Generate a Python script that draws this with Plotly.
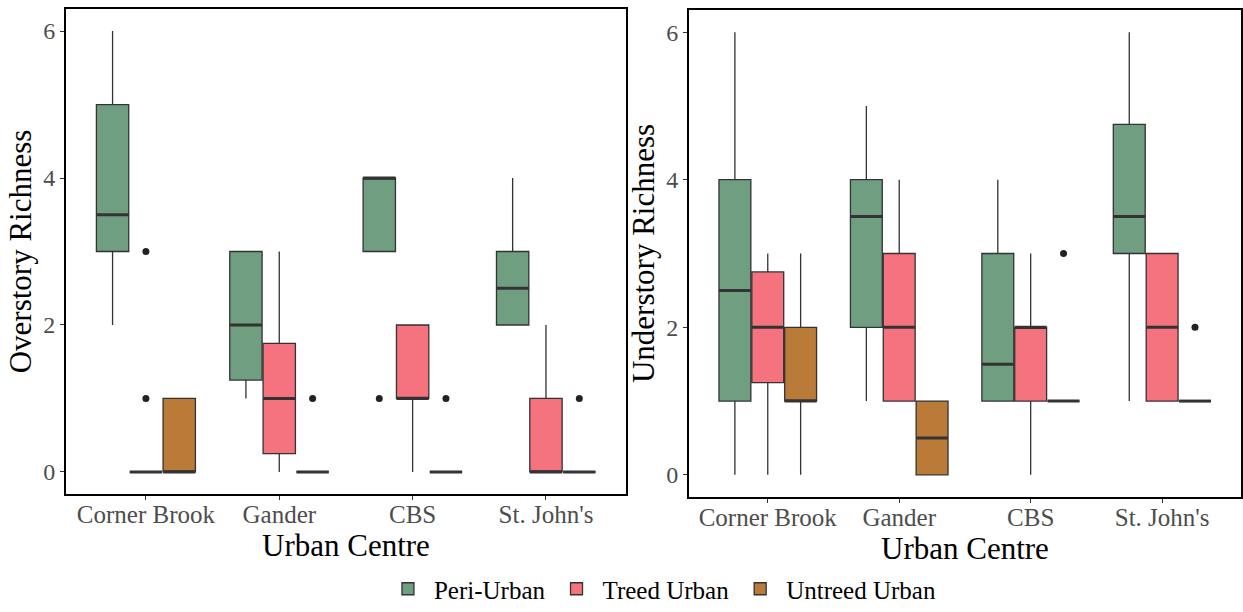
import plotly.graph_objects as go

categories = ["Corner Brook", "Gander", "CBS", "St. John's"]
groups = ["Peri-Urban", "Treed Urban", "Untreed Urban"]
colors = {"Peri-Urban": "#6F9E80", "Treed Urban": "#F4737F", "Untreed Urban": "#BA7B39"}

# Overstory Richness (left panel): per group, per category
over_lower = {"Peri-Urban": [2, 1, 3, 2], "Treed Urban": [0, 0, 0, 0], "Untreed Urban": [0, 0, 0, 0]}
over_q1 = {"Peri-Urban": [3, 1.25, 3, 2], "Treed Urban": [0, 0.25, 1, 0], "Untreed Urban": [0, 0, 0, 0]}
over_med = {"Peri-Urban": [3.5, 2, 4, 2.5], "Treed Urban": [0, 1, 1, 0], "Untreed Urban": [0, 0, 0, 0]}
over_q3 = {"Peri-Urban": [5, 3, 4, 3], "Treed Urban": [0, 1.75, 2, 1], "Untreed Urban": [1, 0, 0, 0]}
over_upper = {"Peri-Urban": [6, 3, 4, 4], "Treed Urban": [0, 3, 2, 2], "Untreed Urban": [1, 0, 0, 0]}
# outliers: (category index, value)
over_out = {"Peri-Urban": [(2, 1)], "Treed Urban": [(0, 1), (0, 3)],
            "Untreed Urban": [(1, 1), (2, 1), (3, 1)]}

# Understory Richness (right panel)
under_lower = {"Peri-Urban": [0, 1, 1, 1], "Treed Urban": [0, 1, 0, 1], "Untreed Urban": [0, 0, 1, 1]}
under_q1 = {"Peri-Urban": [1, 2, 1, 3], "Treed Urban": [1.25, 1, 1, 1], "Untreed Urban": [1, 0, 1, 1]}
under_med = {"Peri-Urban": [2.5, 3.5, 1.5, 3.5], "Treed Urban": [2, 2, 2, 2], "Untreed Urban": [1, 0.5, 1, 1]}
under_q3 = {"Peri-Urban": [4, 4, 3, 4.75], "Treed Urban": [2.75, 3, 2, 3], "Untreed Urban": [2, 1, 1, 1]}
under_upper = {"Peri-Urban": [6, 5, 4, 6], "Treed Urban": [3, 4, 3, 3], "Untreed Urban": [3, 1, 1, 1]}
under_out = {"Peri-Urban": [], "Treed Urban": [], "Untreed Urban": [(2, 3), (3, 2)]}

y_ticks = [0, 2, 4, 6]

BOX_W = 0.25
LINE_C = "#333333"
FONT = "Liberation Serif"

fig = go.Figure()


def add_panel(xa, ya, lower, q1, med, q3, upper, outl, show_legend):
    for gi, g in enumerate(groups):
        xs = [i + 1 + (gi - 1) * BOX_W for i in range(len(categories))]
        fig.add_trace(go.Box(
            x=xs, q1=q1[g], median=med[g], q3=q3[g],
            lowerfence=lower[g], upperfence=upper[g],
            width=BOX_W * 0.97, whiskerwidth=0,
            fillcolor=colors[g], line=dict(color=LINE_C, width=1.3),
            name=g, legendgroup=g, showlegend=show_legend,
            boxpoints=False, xaxis=xa, yaxis=ya, hoverinfo="skip",
        ))
        # thicker median line like ggplot
        mx, my = [], []
        for i in range(len(categories)):
            mx += [xs[i] - BOX_W * 0.485, xs[i] + BOX_W * 0.485, None]
            my += [med[g][i], med[g][i], None]
        fig.add_trace(go.Scatter(x=mx, y=my, mode="lines",
                                 line=dict(color=LINE_C, width=3),
                                 showlegend=False, xaxis=xa, yaxis=ya, hoverinfo="skip"))
        if outl[g]:
            fig.add_trace(go.Scatter(
                x=[c + 1 + (gi - 1) * BOX_W for c, v in outl[g]],
                y=[v for c, v in outl[g]], mode="markers",
                marker=dict(color="#222222", size=7),
                showlegend=False, xaxis=xa, yaxis=ya, hoverinfo="skip"))


add_panel("x", "y", over_lower, over_q1, over_med, over_q3, over_upper, over_out, True)
add_panel("x2", "y2", under_lower, under_q1, under_med, under_q3, under_upper, under_out, False)

W, H = 1243, 612
xaxis_common = dict(
    range=[0.4, 4.6], tickvals=[1, 2, 3, 4], ticktext=categories,
    showline=True, linecolor="black", linewidth=1.5, mirror=True,
    ticks="outside", ticklen=4, tickcolor=LINE_C, tickwidth=1.2,
    showgrid=False, zeroline=False, ticklabelstandoff=-7,
    tickfont=dict(family=FONT, size=25, color="#4D4D4D"),
    title=dict(text="Urban Centre", font=dict(family=FONT, size=31, color="black"), standoff=0),
)
yaxis_common = dict(
    range=[-0.3, 6.3], tickvals=y_ticks,
    showline=True, linecolor="black", linewidth=1.5, mirror=True,
    ticks="outside", ticklen=4, tickcolor=LINE_C, tickwidth=1.2,
    showgrid=False, zeroline=False,
    tickfont=dict(family=FONT, size=24, color="#4D4D4D"),
)

fig.update_layout(
    width=W, height=H,
    margin=dict(l=0, r=0, t=0, b=0),
    font=dict(family=FONT, color="black"),
    paper_bgcolor="white", plot_bgcolor="white",
    boxmode="overlay",
    xaxis=dict(domain=[66 / W, 627 / W], anchor="y", **xaxis_common),
    yaxis=dict(domain=[(H - 494) / H, (H - 9) / H], anchor="x",
               title=dict(text="Overstory Richness", font=dict(family=FONT, size=31, color="black"), standoff=2),
               **yaxis_common),
    xaxis2=dict(domain=[690 / W, 1.0], anchor="y2", **xaxis_common),
    yaxis2=dict(domain=[(H - 497) / H, (H - 10) / H], anchor="x2",
                title=dict(text="Understory Richness", font=dict(family=FONT, size=31, color="black"), standoff=2),
                **yaxis_common),
    legend=dict(orientation="h", x=0.533, xanchor="center",
                y=0, yanchor="bottom",
                itemwidth=42,
                font=dict(family=FONT, size=25, color="black"), bgcolor="rgba(0,0,0,0)"),
)

fig.write_html("out.html")
